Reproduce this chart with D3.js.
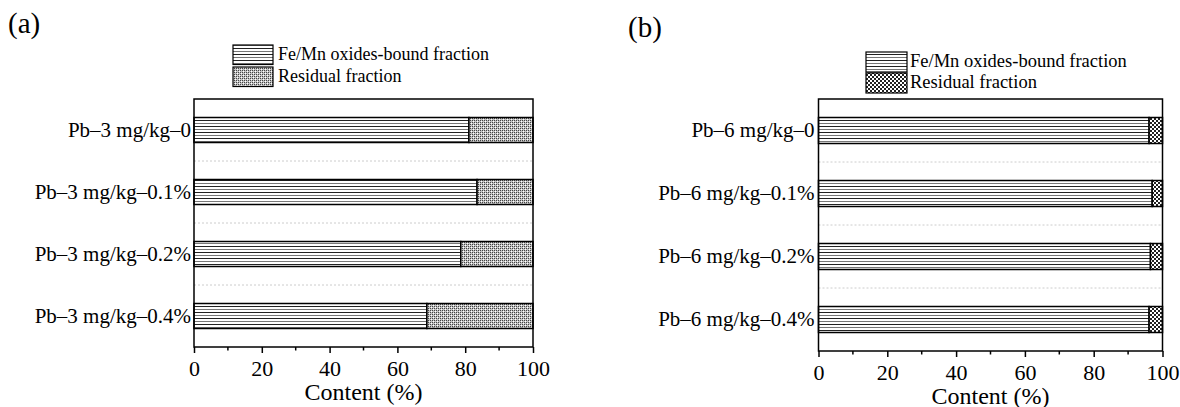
<!DOCTYPE html>
<html><head><meta charset="utf-8">
<script src="https://cdn.jsdelivr.net/npm/d3@7"></script>
<style>body{margin:0;background:#fff}svg{display:block}</style>
</head><body><svg id="c" width="1180" height="407"></svg>
<script>
const catsA = ["Pb–3 mg/kg–0","Pb–3 mg/kg–0.1%","Pb–3 mg/kg–0.2%","Pb–3 mg/kg–0.4%"];
const feMnA = [81.1, 83.5, 78.7, 68.7];
const catsB = ["Pb–6 mg/kg–0","Pb–6 mg/kg–0.1%","Pb–6 mg/kg–0.2%","Pb–6 mg/kg–0.4%"];
const feMnB = [96.1, 97.0, 96.5, 96.1];
const seriesNames = ["Fe/Mn oxides-bound fraction","Residual fraction"];
const xTicks = [0,20,40,60,80,100];

const FONT = "Liberation Serif";
const svg = d3.select("#c");
const defs = svg.append("defs");
// horizontal lines pattern
const pl = defs.append("pattern").attr("id","hl").attr("patternUnits","userSpaceOnUse").attr("width",6).attr("height",6);
pl.append("rect").attr("width",6).attr("height",6).attr("fill","#fff");
pl.append("rect").attr("y",0).attr("width",6).attr("height",1).attr("fill","#222");
pl.append("rect").attr("y",3).attr("width",6).attr("height",1).attr("fill","#777");
// medium crosshatch (a)
const pa = defs.append("pattern").attr("id","xa").attr("patternUnits","userSpaceOnUse").attr("width",4).attr("height",4);
pa.append("rect").attr("width",4).attr("height",4).attr("fill","#c4c4c4");
pa.append("path").attr("d","M0,0h1v1h-1zM2,2h1v1h-1zM2,0h1v1h-1zM0,2h1v1h-1z").attr("fill","#444");
pa.append("path").attr("d","M1,1h1v1h-1zM3,3h1v1h-1z").attr("fill","#fff");
// dark crosshatch (b)
const pb = defs.append("pattern").attr("id","xb").attr("patternUnits","userSpaceOnUse").attr("width",4).attr("height",4);
pb.append("rect").attr("width",4).attr("height",4).attr("fill","#fff");
pb.append("path").attr("d","M0,0h2v2h-2zM2,2h2v2h-2z").attr("fill","#222");

function panel(opt){
  const {cats, vals, left, right, top, bottom, tag, tagX, tagY, legX, legY, legFont, resFill, bh} = opt;
  const g = svg.append("g");
  const x = d3.scaleLinear().domain([0,100]).range([left,right]);
  const y = d3.scaleBand().domain(cats).range([top,bottom]).paddingInner(0).paddingOuter(0);
  // gridlines between categories
  cats.slice(1).forEach(c=>{
    g.append("line").attr("x1",left).attr("x2",right).attr("y1",y(c)).attr("y2",y(c))
      .attr("stroke","#ccc").attr("stroke-width",1).attr("stroke-dasharray","2,2");
  });
  // bars
  cats.forEach((c,i)=>{
    const yc = y(c)+y.bandwidth()/2;
    g.append("rect").attr("x",x(0)).attr("y",yc-bh/2).attr("width",x(vals[i])-x(0)).attr("height",bh)
      .attr("fill","url(#hl)").attr("stroke","#000").attr("stroke-width",1.5);
    g.append("rect").attr("x",x(vals[i])).attr("y",yc-bh/2).attr("width",x(100)-x(vals[i])).attr("height",bh)
      .attr("fill",resFill).attr("stroke","#000").attr("stroke-width",1.5);
  });
  // frame
  g.append("rect").attr("x",left).attr("y",top).attr("width",right-left).attr("height",bottom-top)
    .attr("fill","none").attr("stroke","#000").attr("stroke-width",1.5);
  // x axis
  const ax = g.append("g").attr("transform",`translate(0,${bottom})`)
    .call(d3.axisBottom(x).tickValues(xTicks).tickSize(6).tickPadding(7).tickFormat(d3.format("d")));
  ax.attr("font-family",FONT).attr("font-size",22);
  ax.select(".domain").remove();
  ax.selectAll("line").attr("stroke","#000").attr("stroke-width",1.5);
  ax.selectAll("text").attr("fill","#000");
  const minor = d3.range(10,100,20);
  g.selectAll(null).data(minor).enter().append("line")
    .attr("x1",d=>x(d)).attr("x2",d=>x(d)).attr("y1",bottom).attr("y2",bottom+3.5)
    .attr("stroke","#000").attr("stroke-width",1.5);
  // y labels
  const ay = g.append("g").attr("transform",`translate(${left},0)`)
    .call(d3.axisLeft(y).tickSize(0).tickPadding(opt.yPad));
  ay.attr("font-family",FONT).attr("font-size",21);
  ay.select(".domain").remove();
  ay.selectAll("text").attr("fill","#000");
  // axis title
  g.append("text").attr("x",(left+right)/2).attr("y",opt.titleY).attr("text-anchor","middle")
    .attr("font-family",FONT).attr("font-size",24).text("Content (%)");
  // tag
  g.append("text").attr("x",tagX).attr("y",tagY).attr("font-family",FONT).attr("font-size",29).text(tag);
  // legend
  const fills = ["url(#hl)", resFill];
  seriesNames.forEach((s,i)=>{
    g.append("rect").attr("x",legX).attr("y",legY[i]).attr("width",opt.legW).attr("height",opt.legH)
      .attr("fill",fills[i]).attr("stroke","#000").attr("stroke-width",1.2);
    g.append("text").attr("x",opt.legTX).attr("y",opt.legTY[i]).attr("font-family",FONT)
      .attr("font-size",legFont).text(s);
  });
}

panel({cats:catsA, vals:feMnA, left:194, right:533, top:99, bottom:347, bh:25, yPad:3,
  tag:"(a)", tagX:8, tagY:33,
  legX:233, legY:[45,67], legW:40, legH:19.5, legTX:278, legTY:[60,82], legFont:18,
  resFill:"url(#xa)", titleY:400});
panel({cats:catsB, vals:feMnB, left:818.5, right:1162.5, top:99, bottom:351, bh:26, yPad:4,
  tag:"(b)", tagX:628, tagY:37,
  legX:866, legY:[52,73], legW:41, legH:20, legTX:910, legTY:[67,88], legFont:18.5,
  resFill:"url(#xb)", titleY:404});
</script></body></html>
